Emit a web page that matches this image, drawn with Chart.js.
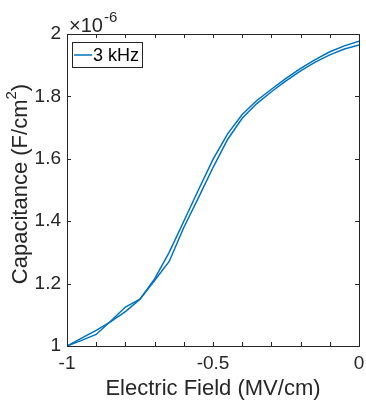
<!DOCTYPE html>
<html>
<head>
<meta charset="utf-8">
<script src="https://cdn.jsdelivr.net/npm/chart.js@4"></script>
<style>
  html, body { margin: 0; padding: 0; background: #fff; }
  #wrap { width: 366px; height: 405px; }
</style>
</head>
<body>
<div id="wrap"><canvas id="cvChart" width="366" height="405"></canvas></div>
<script>
// Electric field (MV/cm) and capacitance (x1e-6 F/cm^2) for both sweep directions
const fieldMV = [-1, -0.95, -0.9, -0.85, -0.8, -0.75, -0.7, -0.65, -0.6, -0.55, -0.5,
                 -0.45, -0.4, -0.35, -0.3, -0.25, -0.2, -0.15, -0.1, -0.05, 0];
const capSweepA = [1.0, 1.025, 1.05, 1.078, 1.11, 1.15, 1.215, 1.30, 1.40, 1.50, 1.598,
                   1.68, 1.742, 1.787, 1.823, 1.858, 1.89, 1.918, 1.943, 1.962, 1.977];
const capSweepB = [1.0, 1.018, 1.037, 1.08, 1.125, 1.15, 1.21, 1.271, 1.38, 1.475, 1.572,
                   1.662, 1.73, 1.777, 1.815, 1.85, 1.882, 1.91, 1.933, 1.952, 1.965];
const xMinorTicks = [-1, -0.9, -0.8, -0.7, -0.6, -0.5, -0.4, -0.3, -0.2, -0.1, 0];
const yTicks = [1, 1.2, 1.4, 1.6, 1.8, 2];
const legendLabel = '3 kHz';

const BLUE = '#0072BD';
const INK = '#262626';
const FONT = '"Liberation Sans", Arial, Helvetica, sans-serif';

function toPoints(ys) {
  return fieldMV.map((x, i) => ({ x: x, y: ys[i] }));
}

// MATLAB style labels: 1, 1.2 ... 2 and -1, -0.5, 0
function shortNum(v) {
  return String(Number(v.toFixed(2)));
}

// box, inward ticks, exponent, y label and legend (MATLAB look)
const matlabAxes = {
  id: 'matlabAxes',
  afterDraw(chart) {
    const ctx = chart.ctx;
    const a = chart.chartArea;
    const xs = chart.scales.x, ys = chart.scales.y;
    const tl = 4;
    ctx.save();
    ctx.strokeStyle = INK;
    ctx.lineWidth = 1;
    ctx.beginPath();
    xMinorTicks.forEach(v => {
      const px = Math.round(xs.getPixelForValue(v)) + 0.5;
      ctx.moveTo(px, a.bottom); ctx.lineTo(px, a.bottom - tl);
      ctx.moveTo(px, a.top); ctx.lineTo(px, a.top + tl);
    });
    yTicks.forEach(v => {
      const py = Math.round(ys.getPixelForValue(v)) + 0.5;
      ctx.moveTo(a.left, py); ctx.lineTo(a.left + tl, py);
      ctx.moveTo(a.right, py); ctx.lineTo(a.right - tl, py);
    });
    ctx.stroke();
    ctx.strokeRect(Math.round(a.left) + 0.5, Math.round(a.top) + 0.5,
                   Math.round(a.right - a.left), Math.round(a.bottom - a.top));

    // exponent label
    ctx.fillStyle = INK;
    ctx.textBaseline = 'alphabetic';
    ctx.textAlign = 'left';
    ctx.font = '20px ' + FONT;
    ctx.fillText('\u00d710', a.left + 2, a.top - 2);
    const w10 = ctx.measureText('\u00d710').width;
    ctx.font = '15px ' + FONT;
    ctx.fillText('-6', a.left + 3 + w10, a.top - 12);

    // y axis title with superscript
    ctx.save();
    ctx.translate(21, 184);
    ctx.rotate(-Math.PI / 2);
    ctx.font = '22px ' + FONT;
    const main = 'Capacitance (F/cm';
    const wMain = ctx.measureText(main).width;
    ctx.font = '15px ' + FONT;
    const wSup = ctx.measureText('2').width;
    ctx.font = '22px ' + FONT;
    const wPar = ctx.measureText(')').width;
    const x0 = -(wMain + wSup + wPar) / 2;
    ctx.textBaseline = 'middle';
    ctx.fillText(main, x0, 0);
    ctx.font = '15px ' + FONT;
    ctx.fillText('2', x0 + wMain, -9);
    ctx.font = '22px ' + FONT;
    ctx.fillText(')', x0 + wMain + wSup, 0);
    ctx.restore();

    // legend
    const lx = a.left + 5, ly = a.top + 8, lw = 70, lh = 25;
    ctx.fillStyle = '#fff';
    ctx.fillRect(lx, ly, lw, lh);
    ctx.strokeStyle = INK;
    ctx.strokeRect(lx + 0.5, ly + 0.5, lw, lh);
    ctx.strokeStyle = BLUE;
    ctx.lineWidth = 1.5;
    ctx.beginPath();
    ctx.moveTo(lx + 2, ly + 13);
    ctx.lineTo(lx + 20, ly + 13);
    ctx.stroke();
    ctx.fillStyle = '#000';
    ctx.font = '18px ' + FONT;
    ctx.textBaseline = 'middle';
    ctx.fillText(legendLabel, lx + 21, ly + 14);
    ctx.restore();
  }
};

new Chart(document.getElementById('cvChart'), {
  type: 'line',
  data: {
    datasets: [
      { label: legendLabel, data: toPoints(capSweepA), borderColor: BLUE, borderWidth: 1.5,
        pointRadius: 0, tension: 0, fill: false },
      { label: legendLabel, data: toPoints(capSweepB), borderColor: BLUE, borderWidth: 1.5,
        pointRadius: 0, tension: 0, fill: false }
    ]
  },
  options: {
    responsive: false,
    devicePixelRatio: 1,
    animation: false,
    layout: { padding: { top: 34, right: 7, left: 0, bottom: 0 } },
    plugins: { legend: { display: false }, tooltip: { enabled: false } },
    scales: {
      x: {
        type: 'linear', min: -1, max: 0,
        afterFit: s => { s.height = 59; s.paddingLeft = 0; s.paddingRight = 0; },
        grid: { display: false, drawTicks: false },
        border: { display: false },
        ticks: { stepSize: 0.5, color: INK, padding: 6, maxRotation: 0,
                 callback: v => shortNum(v), font: { size: 19, family: FONT } },
        title: { display: true, text: 'Electric Field (MV/cm)', color: INK,
                 font: { size: 22, family: FONT }, padding: { top: 0, bottom: 3 } }
      },
      y: {
        min: 1, max: 2,
        afterFit: s => { s.width = 67; },
        grid: { display: false, drawTicks: false },
        border: { display: false },
        ticks: { stepSize: 0.2, color: INK, padding: 6,
                 callback: v => shortNum(v), font: { size: 19, family: FONT } }
      }
    }
  },
  plugins: [matlabAxes]
});
</script>
</body>
</html>
